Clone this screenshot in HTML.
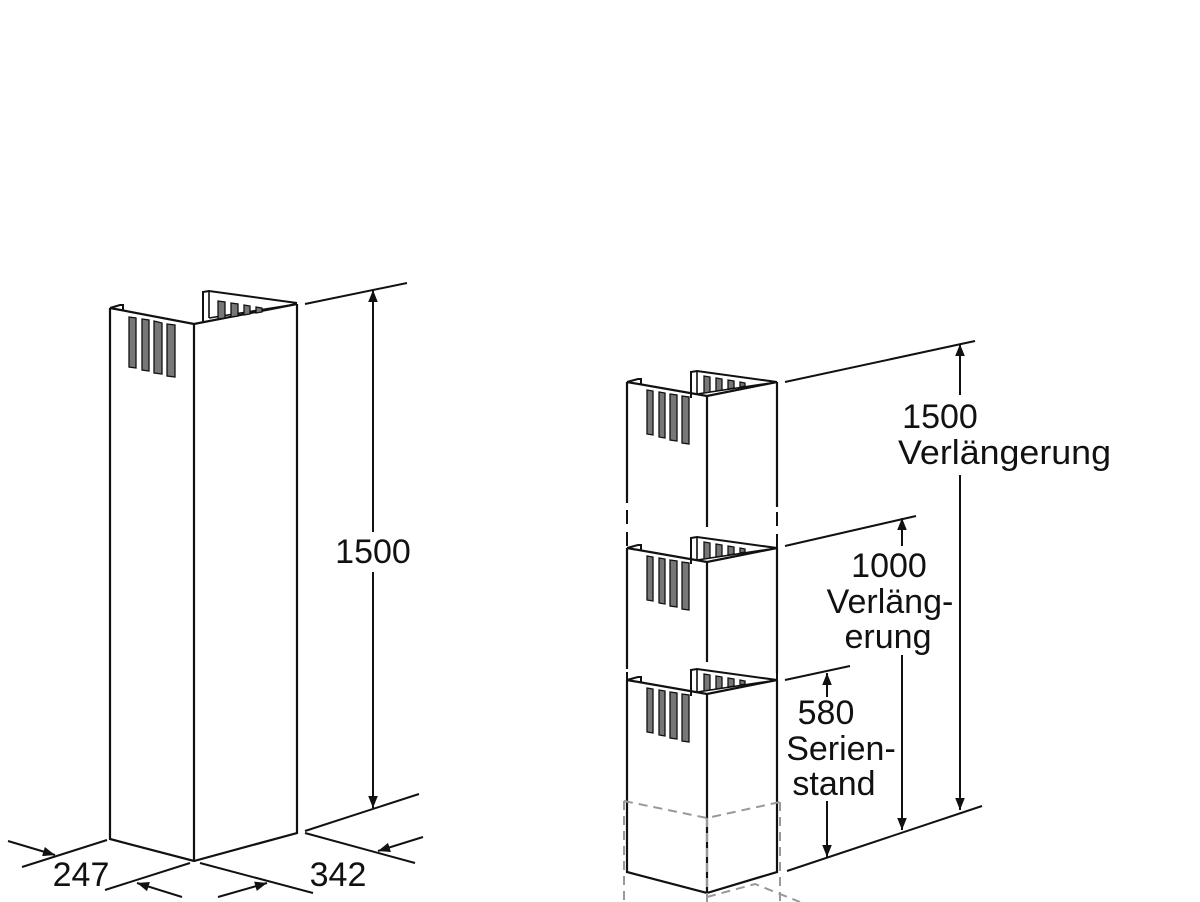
<!DOCTYPE html>
<html><head><meta charset="utf-8"><style>
html,body{margin:0;padding:0;background:#fff;}
svg{display:block;}
text{font-family:"Liberation Sans",Arial,sans-serif;font-size:34px;fill:#111;}
</style></head><body>
<svg width="1200" height="902" viewBox="0 0 1200 902" xmlns="http://www.w3.org/2000/svg">
<defs>
<marker id="ah" viewBox="0 0 10 10" refX="10" refY="5" markerWidth="15" markerHeight="12" orient="auto-start-reverse" markerUnits="userSpaceOnUse">
<path d="M0,1 L10,5 L0,9 Z" fill="#111"/>
</marker>
<g id="unit">
  <path d="M627,382 L638,379 L641,379 L641,384" fill="none" stroke="#111" stroke-width="2"/>
  <path d="M627,382 L707,396 L777,382" fill="none" stroke="#111" stroke-width="2.2"/>
  <path d="M691,398 L691,372 L697,371 L777,382" fill="none" stroke="#111" stroke-width="2"/>
  <path d="M697,372 L697,395 M697,394 L777,382" fill="none" stroke="#111" stroke-width="1.6"/>
  <g fill="#777" stroke="#111" stroke-width="1.3">
    <path d="M647,390 L653,391 L653,435 L647,434 Z"/>
    <path d="M659,392 L665,393 L665,438 L659,437 Z"/>
    <path d="M670,394 L677,395 L677,441 L670,440 Z"/>
    <path d="M682,396 L689,397 L689,444 L682,443 Z"/>
    <path d="M704,376 L710,377 L710,392 L704,393 Z"/>
    <path d="M716,378 L722,379 L722,390 L716,391 Z"/>
    <path d="M728,380 L734,381 L734,388 L728,389 Z"/>
    <path d="M740,382 L745,383 L745,386 L740,387 Z"/>
  </g>
</g>
</defs>

<!-- LEFT COLUMN -->
<g fill="none" stroke="#111" stroke-width="2.2">
  <path d="M110,308 L110,839 L194,861 L297,833 L297,304"/>
  <path d="M194,324 L194,861"/>
  <path d="M110,308 L194,324 L297,304"/>
  <path d="M110,308 L120,305 L123,305 L123,310" stroke-width="2"/>
  <path d="M203,322 L203,292 L209,291 L297,303" stroke-width="2"/>
  <path d="M209,292 L209,318 M209,318 L297,304" stroke-width="1.6"/>
</g>
<g fill="#777" stroke="#111" stroke-width="1.3">
  <path d="M129,317 L136,318 L136,368 L129,367 Z"/>
  <path d="M142,319 L149,320 L149,371 L142,370 Z"/>
  <path d="M154,321 L162,323 L162,374 L154,373 Z"/>
  <path d="M167,324 L175,325 L175,377 L167,376 Z"/>
  <path d="M218,301 L225,302 L225,318 L218,319 Z"/>
  <path d="M231,303 L238,304 L238,316 L231,317 Z"/>
  <path d="M244,305 L250,306 L250,314 L244,315 Z"/>
  <path d="M256,307 L262,308 L262,312 L256,313 Z"/>
</g>
<!-- left dims -->
<g fill="none" stroke="#111" stroke-width="2">
  <path d="M305,304 L407,283"/>
  <path d="M305,831 L419,794"/>
  <path d="M373,290 L373,532" marker-start="url(#ah)"/>
  <path d="M373,572 L373,808" marker-end="url(#ah)"/>
  <path d="M107,840 L22,867"/>
  <path d="M8,841 L55,855" marker-end="url(#ah)"/>
  <path d="M190,863 L105,890"/>
  <path d="M182,897 L137,883" marker-end="url(#ah)"/>
  <path d="M200,863 L313,893"/>
  <path d="M218,897 L267,883" marker-end="url(#ah)"/>
  <path d="M305,833 L415,863"/>
  <path d="M423,837 L378,851" marker-end="url(#ah)"/>
</g>
<text x="373" y="563" text-anchor="middle">1500</text>
<text x="81" y="886" text-anchor="middle">247</text>
<text x="338" y="886" text-anchor="middle">342</text>

<!-- RIGHT COLUMN -->
<use href="#unit"/>
<use href="#unit" transform="translate(0,166)"/>
<use href="#unit" transform="translate(0,298)"/>
<g fill="none" stroke="#111" stroke-width="2.2">
  <path d="M627,382 L627,503 M707,396 L707,527 M777,382 L777,507"/>
  <path d="M627,548 L627,669 M707,562 L707,662 M777,548 L777,673"/>
  <path d="M627,680 L627,872 L707,893 L777,872 L777,680 M707,694 L707,893"/>
</g>
<g fill="none" stroke="#111" stroke-width="2" stroke-dasharray="14,8">
  <path d="M627,510 L627,548 M777,512 L777,548"/>
</g>
<g fill="none" stroke="#111" stroke-width="2" stroke-dasharray="12,9">
  <path d="M627,630 L627,680 M777,630 L777,680"/>
</g>
<g fill="none" stroke="#999" stroke-width="2" stroke-dasharray="9,6">
  <path d="M624,801 L707,818 L780,802"/>
  <path d="M624,801 L624,902 M707,818 L707,902 M780,802 L780,902"/>
  <path d="M707,897 L755,884 L800,902"/>
</g>
<!-- right dims -->
<g fill="none" stroke="#111" stroke-width="2">
  <path d="M785,382 L975,341"/>
  <path d="M787,871 L982,806"/>
  <path d="M785,546 L916,516"/>
  <path d="M785,680 L850,666"/>
  <path d="M960,344 L960,395" marker-start="url(#ah)"/>
  <path d="M960,475 L960,810" marker-end="url(#ah)"/>
  <path d="M902,518 L902,546" marker-start="url(#ah)"/>
  <path d="M902,655 L902,830" marker-end="url(#ah)"/>
  <path d="M827,673 L827,697" marker-start="url(#ah)"/>
  <path d="M827,801 L827,857" marker-end="url(#ah)"/>
</g>
<text x="940" y="428" text-anchor="middle">1500</text>
<text x="898" y="464" textLength="213" lengthAdjust="spacingAndGlyphs">Verlängerung</text>
<text x="889" y="577" text-anchor="middle">1000</text>
<text x="890" y="613" text-anchor="middle">Verläng-</text>
<text x="888" y="648" text-anchor="middle">erung</text>
<text x="826" y="724" text-anchor="middle">580</text>
<text x="841" y="760" text-anchor="middle">Serien-</text>
<text x="834" y="795" text-anchor="middle">stand</text>
</svg>
</body></html>
